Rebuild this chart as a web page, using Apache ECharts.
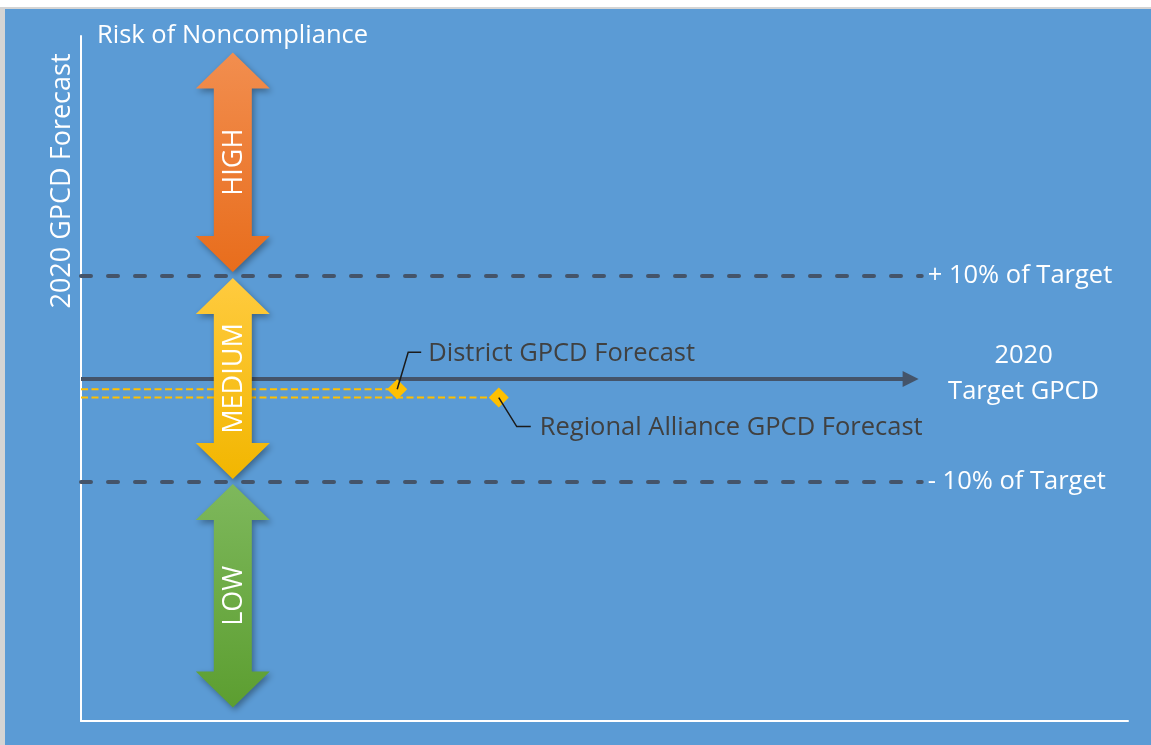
<!DOCTYPE html>
<html>
<head>
<meta charset="utf-8">
<title>Risk of Noncompliance</title>
<script src="https://cdn.jsdelivr.net/npm/echarts@6/dist/echarts.min.js"></script>
<style>
  html, body { margin: 0; padding: 0; background: #fff; }
  #main { width: 1151px; height: 745px; }
</style>
</head>
<body>
<div id="main"></div>
<script>
// axis extents (GPCD, target = 100)
var xExtent = [0, 100];
var yExtent = [66.8, 133.3];

var target = 100;
var targetEndX = 80;

// +/- 10% lines
var thresholds = [110, 90];
var thresholdLabels = ['+ 10% of Target', '- 10% of Target'];
var thresholdEndX = 80.3;

// risk arrows
var riskLevels = ['HIGH', 'MEDIUM', 'LOW'];
var riskTop = [131.7, 109.8, 89.8];
var riskBottom = [110.4, 90.3, 68.1];
var riskX = 14.5;

// forecasts
var forecastNames = ['District GPCD Forecast', 'Regional Alliance GPCD Forecast'];
var forecastX = [30.2, 39.9];
var forecastY = [99.0, 98.2];

var FONT = '"Open Sans"';
var FS = 25.5;
var DARK = '#44546A';

var riskColors = [
  ['#F28E4F', '#E86D1C'],
  ['#FFCB3F', '#F2B600'],
  ['#7EB85C', '#5C9E30']
];

var chart = echarts.init(document.getElementById('main'), null, { renderer: 'canvas' });

function renderRisk(params, api) {
  var top = api.coord([api.value(0), api.value(1)]);
  var bot = api.coord([api.value(0), api.value(2)]);
  var cx = top[0];
  var hh = 36, hw = 37, sw = 19; // head height, head half width, shaft half width
  var t = top[1], b = bot[1];
  var c = riskColors[params.dataIndex];
  return {
    type: 'group',
    children: [
      {
        type: 'polygon',
        shape: {
          points: [
            [cx, t], [cx + hw, t + hh], [cx + sw, t + hh], [cx + sw, b - hh],
            [cx + hw, b - hh], [cx, b], [cx - hw, b - hh], [cx - sw, b - hh],
            [cx - sw, t + hh], [cx - hw, t + hh]
          ]
        },
        style: {
          fill: new echarts.graphic.LinearGradient(0, 0, 0, 1, [
            { offset: 0, color: c[0] },
            { offset: 1, color: c[1] }
          ]),
          shadowBlur: 6,
          shadowOffsetX: 2,
          shadowOffsetY: 3,
          shadowColor: 'rgba(0,0,0,0.35)'
        }
      },
      {
        type: 'text',
        x: cx + 1,
        y: (t + b) / 2,
        rotation: Math.PI / 2,
        style: {
          text: riskLevels[params.dataIndex],
          fill: '#fff',
          font: '27px ' + FONT,
          align: 'center',
          verticalAlign: 'middle'
        }
      }
    ]
  };
}

function renderTarget(params, api) {
  var p0 = api.coord([api.value(0), api.value(2)]);
  var p1 = api.coord([api.value(1), api.value(2)]);
  var head = 16;
  return {
    type: 'group',
    children: [
      {
        type: 'line',
        shape: { x1: p0[0], y1: p0[1], x2: p1[0] - head + 2, y2: p1[1] },
        style: { stroke: DARK, lineWidth: 4 }
      },
      {
        type: 'polygon',
        shape: { points: [[p1[0], p1[1]], [p1[0] - head, p1[1] - 8], [p1[0] - head, p1[1] + 8]] },
        style: { fill: DARK }
      },
      {
        type: 'text',
        x: p1[0] + 105,
        y: p1[1] - 5,
        style: {
          text: '2020\nTarget GPCD',
          fill: '#fff',
          font: FS + 'px ' + FONT,
          lineHeight: 36,
          align: 'center',
          verticalAlign: 'middle'
        }
      }
    ]
  };
}

// leader offsets: [bendX, bendY, endX, textX]
var calloutGeom = [[11, -37, 24, 31], [18, 29, 32, 41]];

function renderCallout(params, api) {
  var p = api.coord([api.value(0), api.value(1)]);
  var g = calloutGeom[params.dataIndex];
  return {
    type: 'group',
    children: [
      {
        type: 'polyline',
        shape: { points: [[p[0], p[1]], [p[0] + g[0], p[1] + g[1]], [p[0] + g[2], p[1] + g[1]]] },
        style: { stroke: '#1b1b1b', lineWidth: 1.5, fill: null }
      },
      {
        type: 'text',
        x: p[0] + g[3],
        y: p[1] + g[1] + 1,
        style: {
          text: forecastNames[params.dataIndex],
          fill: '#404040',
          font: FS + 'px ' + FONT,
          align: 'left',
          verticalAlign: 'middle'
        }
      }
    ]
  };
}

var series = [];

thresholds.forEach(function (v, i) {
  series.push({
    name: thresholdLabels[i],
    type: 'line',
    data: [[xExtent[0], v], [thresholdEndX, v]],
    symbol: 'none',
    silent: true,
    z: 2,
    lineStyle: { color: DARK, width: 4, type: [10, 17], cap: 'round' },
    endLabel: {
      show: true,
      formatter: thresholdLabels[i],
      color: '#fff',
      fontFamily: FONT,
      fontSize: FS,
      distance: 6
    }
  });
});

series.push({
  name: 'target',
  type: 'custom',
  renderItem: renderTarget,
  data: [[xExtent[0], targetEndX, target]],
  z: 3
});

forecastNames.forEach(function (name, i) {
  series.push({
    name: name,
    type: 'line',
    data: [
      { value: [xExtent[0], forecastY[i]], symbol: 'none' },
      { value: [forecastX[i], forecastY[i]] }
    ],
    symbol: 'diamond',
    symbolSize: [20, 20],
    showAllSymbol: true,
    silent: true,
    z: 4,
    itemStyle: { color: '#FFC000', borderWidth: 0 },
    lineStyle: { color: '#FFC000', width: 2, type: [7, 3.5] }
  });
});

series.push({
  name: 'callouts',
  type: 'custom',
  renderItem: renderCallout,
  data: forecastX.map(function (x, i) { return [x, forecastY[i]]; }),
  z: 5
});

series.push({
  name: 'risk',
  type: 'custom',
  renderItem: renderRisk,
  encode: { x: 0, y: [1, 2] },
  data: riskLevels.map(function (n, i) { return [riskX, riskTop[i], riskBottom[i]]; }),
  z: 10
});

var option = {
  backgroundColor: '#ffffff',
  animation: false,
  textStyle: { fontFamily: FONT },
  title: {
    text: 'Risk of Noncompliance',
    left: 97,
    top: 23,
    padding: 0,
    textStyle: { color: '#fff', fontSize: FS, fontWeight: 'normal', fontFamily: FONT }
  },
  graphic: [
    { type: 'rect', z: -10, shape: { x: 0, y: 7, width: 1151, height: 738 }, style: { fill: '#d4d4d4' } },
    { type: 'rect', z: -9, shape: { x: 5, y: 9, width: 1146, height: 736 }, style: { fill: '#5B9BD5' } },
    {
      type: 'text',
      x: 62,
      y: 181,
      rotation: Math.PI / 2,
      style: {
        text: '2020 GPCD Forecast',
        fill: '#fff',
        font: '27px ' + FONT,
        align: 'center',
        verticalAlign: 'middle'
      }
    }
  ],
  grid: { left: 81, right: 23, top: 36, bottom: 24 },
  xAxis: {
    type: 'value',
    min: xExtent[0],
    max: xExtent[1],
    axisLine: { show: true, lineStyle: { color: '#fff', width: 2 } },
    axisTick: { show: false },
    axisLabel: { show: false },
    splitLine: { show: false }
  },
  yAxis: {
    type: 'value',
    min: yExtent[0],
    max: yExtent[1],
    axisLine: { show: true, lineStyle: { color: '#fff', width: 2 } },
    axisTick: { show: false },
    axisLabel: { show: false },
    splitLine: { show: false }
  },
  series: series
};

chart.setOption(option);
</script>
</body>
</html>
